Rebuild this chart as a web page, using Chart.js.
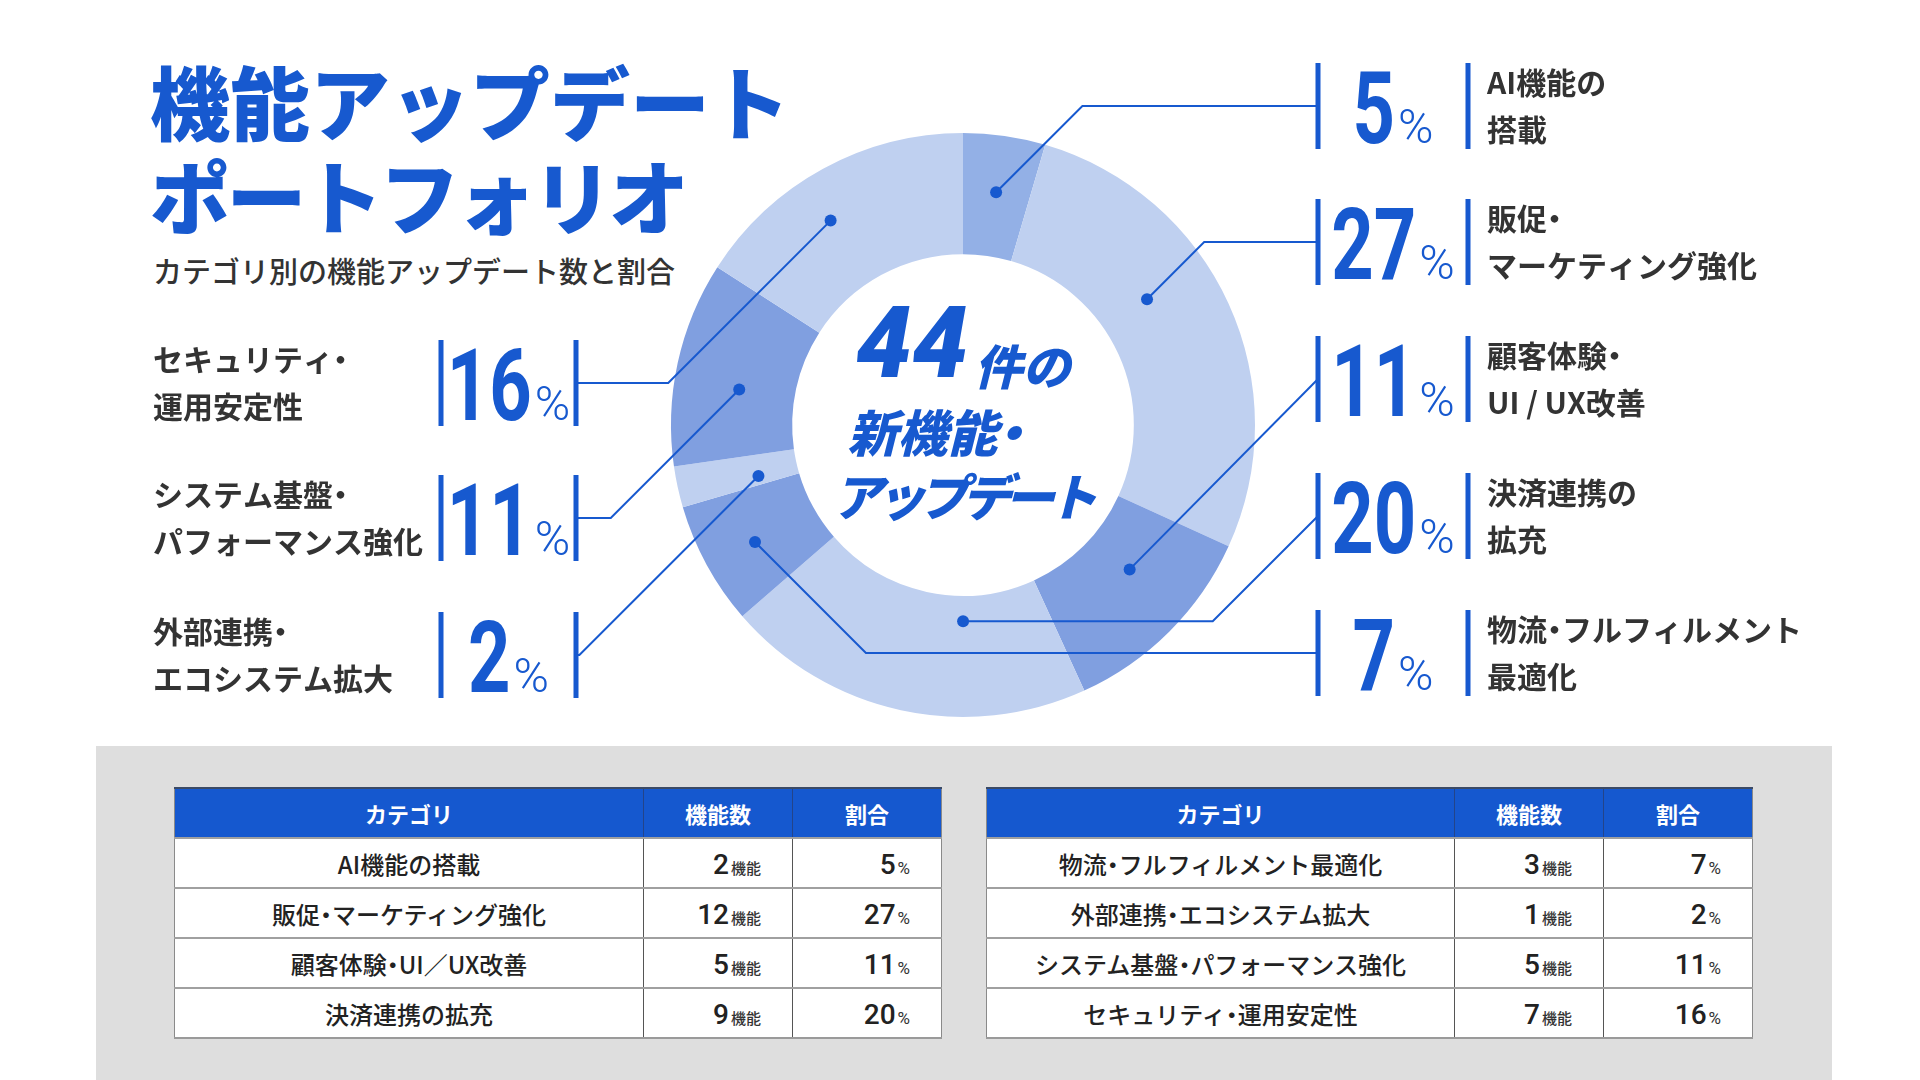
<!DOCTYPE html>
<html lang="ja">
<head>
<meta charset="utf-8">
<title>機能アップデートポートフォリオ</title>
<script src="https://cdn.jsdelivr.net/npm/chart.js@4.4.1/dist/chart.umd.min.js"></script>
<style>
  html,body{margin:0;padding:0;background:#ffffff;}
  body{width:1920px;height:1080px;position:relative;overflow:hidden;font-family:"Noto Sans CJK JP","Noto Sans",sans-serif;}
  #title{position:absolute;left:150px;top:52px;margin:0;font-size:80px;font-weight:900;line-height:94px;color:#1759cf;white-space:nowrap;}
  #title .l2{letter-spacing:-3.5px;}
  #subtitle{position:absolute;left:153px;top:250px;margin:0;font-size:29px;font-weight:500;line-height:40px;color:#333;white-space:nowrap;}
  #chartBox{position:absolute;left:0;top:0;width:1920px;height:746px;}
  #panel{position:absolute;left:96px;top:746px;width:1736px;height:334px;background:#dedede;}
  table{position:absolute;top:41px;border-collapse:collapse;table-layout:fixed;background:#fff;border:1px solid #8a8a8a;border-bottom:2px solid #9a9a9a;}
  th{background:#1558cf;color:#fff;font-weight:700;font-size:22px;height:48px;padding:0;text-align:center;border-right:1px solid #23448a;border-top:2px solid #3b4a66;}
  th:last-child{border-right:none;}
  td{height:48px;padding:0;border-top:2px solid #a0a0a0;border-right:1px solid #555;font-size:24px;font-weight:500;color:#222;}
  td:last-child{border-right:none;}
  td.cat{text-align:center;}
  td.num{text-align:right;padding-right:31px;}
  td.pct{text-align:right;padding-right:31px;}
  .dot{margin:0 -0.25em;}
  .n{font-family:Roboto,"Noto Sans",sans-serif;font-weight:500;font-size:28px;color:#222;}
  .u{font-size:15px;font-weight:500;color:#333;margin-left:2px;}
  .p{font-family:Roboto,sans-serif;font-size:17px;font-weight:400;color:#333;margin-left:2px;}
</style>
</head>
<body>
<h1 id="title">機能アップデート<br><span class="l2">ポートフォリオ</span></h1>
<p id="subtitle">カテゴリ別の機能アップデート数と割合</p>
<div id="chartBox"><canvas id="c" width="1920" height="746"></canvas></div>
<div id="panel">
  <table id="t1" style="left:78px;width:767px;">
    <colgroup><col style="width:469px"><col style="width:149px"><col style="width:149px"></colgroup>
  </table>
  <table id="t2" style="left:890px;width:766px;">
    <colgroup><col style="width:468px"><col style="width:149px"><col style="width:149px"></colgroup>
  </table>
</div>
<script>
// ---- data ----
const categories = ['AI機能の搭載','販促・マーケティング強化','顧客体験・UI／UX改善','決済連携の拡充','物流・フルフィルメント最適化','外部連携・エコシステム拡大','システム基盤・パフォーマンス強化','セキュリティ・運用安定性'];
const featureCounts = [2, 12, 5, 9, 3, 1, 5, 7];
const sharePercents = [5, 27, 11, 20, 7, 2, 11, 16];
const calloutLines = [
  ['AI機能の','搭載'],
  ['販促・','マーケティング強化'],
  ['顧客体験・','UI / UX改善'],
  ['決済連携の','拡充'],
  ['物流・フルフィルメント','最適化'],
  ['外部連携・','エコシステム拡大'],
  ['システム基盤・','パフォーマンス強化'],
  ['セキュリティ・','運用安定性']
];
const totalLabel = '44';
const centerLines = ['件の', '新機能・', 'アップデート'];
const tableHeaders = ['カテゴリ','機能数','割合'];
const countUnit = '機能';

// ---- styles / layout ----
const BLUE = '#1759cf';
const segmentColors = ['#93b0e6','#bfd0f0','#809fe0','#bfd0f0','#809fe0','#bfd0f0','#809fe0','#bfd0f0'];
const BAR_H = 86;
const rightSide = {inner:1318, outer:1468, text:1487, tops:[63,199,336,473,610]};
const leftSide  = {inner:576,  outer:441,  text:153,  tops:[340,475,612]};
// at: position of the marker along its arc (0..1), rad: position across the ring (0 inner .. 1 outer)
const calloutLayout = [
  {side:'right', slot:0, route:'diag', at:0.495, rad:0.53},
  {side:'right', slot:1, route:'diag', at:0.40,  rad:0.43},
  {side:'right', slot:2, route:'diag', at:0.40,  rad:0.41},
  {side:'right', slot:3, route:'flat', at:0.333, rad:0.21},
  {side:'right', slot:4, route:'diag', at:0.47,  rad:0.56},
  {side:'left',  slot:2, route:'diag', at:0.29,  rad:0.33},
  {side:'left',  slot:1, route:'diag', at:0.42,  rad:0.46},
  {side:'left',  slot:0, route:'diag', at:0.425, rad:0.60}
];
const SX = 0.74;

// draw Japanese text with a narrow middle dot (proportional "・")
function drawJP(ctx, text, x, y, align, spacing){
  spacing = spacing || 0;
  const items = [...text].map(ch => {
    const w = ctx.measureText(ch).width;
    if (ch === '・') return {ch, adv: w * 0.5, off: -w * 0.25};
    return {ch, adv: w + spacing, off: 0};
  });
  const total = items.reduce((s, it) => s + it.adv, 0) - spacing;
  let cx = align === 'center' ? x - total / 2 : x;
  const prev = ctx.textAlign;
  ctx.textAlign = 'left';
  items.forEach(it => { ctx.fillText(it.ch, cx + it.off, y); cx += it.adv; });
  ctx.textAlign = prev;
  return total;
}

function drawPercent(ctx, value, cx, baseY){
  const s = String(value);
  ctx.font = 'bold 100px Roboto';
  const dw = ctx.measureText(s).width * SX;
  ctx.font = '300 48px Roboto';
  const pw = ctx.measureText('%').width;
  const gap = 3;
  const x = cx - (dw + gap + pw) / 2;
  ctx.fillStyle = BLUE;
  ctx.textAlign = 'left';
  ctx.textBaseline = 'alphabetic';
  ctx.save();
  ctx.translate(x, baseY);
  ctx.scale(SX, 1);
  ctx.font = 'bold 100px Roboto';
  ctx.fillText(s, 0, 0);
  ctx.restore();
  ctx.font = '300 48px Roboto';
  ctx.fillText('%', x + dw + gap, baseY);
}

const calloutPlugin = {
  id: 'callouts',
  afterDatasetsDraw(chart){
    const ctx = chart.ctx;
    const meta = chart.getDatasetMeta(0);
    ctx.save();
    meta.data.forEach((arc, i) => {
      const L = calloutLayout[i];
      const S = L.side === 'right' ? rightSide : leftSide;
      const dir = L.side === 'right' ? 1 : -1;
      const top = S.tops[L.slot];
      const cy = top + BAR_H / 2;
      const ang = arc.startAngle + (arc.endAngle - arc.startAngle) * L.at;
      const r = arc.innerRadius + (arc.outerRadius - arc.innerRadius) * L.rad;
      const px = arc.x + Math.cos(ang) * r;
      const py = arc.y + Math.sin(ang) * r;
      const d = Math.abs(cy - py);
      // leader line
      ctx.strokeStyle = BLUE;
      ctx.lineWidth = 2;
      ctx.beginPath();
      ctx.moveTo(px, py);
      if (L.route === 'diag') {
        let ex = px + dir * d;
        if ((ex - S.inner) * dir > 0) ex = S.inner;
        ctx.lineTo(ex, cy);
        ctx.lineTo(S.inner, cy);
      } else {
        ctx.lineTo(S.inner - dir * d, py);
        ctx.lineTo(S.inner, cy);
      }
      ctx.stroke();
      // marker
      ctx.fillStyle = BLUE;
      ctx.beginPath();
      ctx.arc(px, py, 6, 0, Math.PI * 2);
      ctx.fill();
      // bars
      ctx.fillRect(S.inner - 2.5, top, 5, BAR_H);
      ctx.fillRect(S.outer - 2.5, top, 5, BAR_H);
      // percent
      drawPercent(ctx, sharePercents[i], (S.inner + S.outer) / 2, cy + 37);
      // label
      ctx.fillStyle = '#333';
      ctx.font = 'bold 30px "Noto Sans CJK JP"';
      ctx.textBaseline = 'middle';
      drawJP(ctx, calloutLines[i][0], S.text, cy - 23, 'left');
      drawJP(ctx, calloutLines[i][1], S.text, cy + 24, 'left');
    });
    // center text
    const a0 = meta.data[0];
    const cx = a0.x;
    ctx.fillStyle = BLUE;
    ctx.textBaseline = 'alphabetic';
    ctx.textAlign = 'left';
    ctx.font = 'italic 900 100px Roboto';
    const w44 = ctx.measureText(totalLabel).width;
    ctx.font = 'italic 900 48px "Noto Sans CJK JP"';
    const wKen = ctx.measureText(centerLines[0]).width;
    const sx = cx - (w44 + 6 + wKen) / 2;
    ctx.font = 'italic 900 100px Roboto';
    ctx.fillText(totalLabel, sx, 377);
    ctx.font = 'italic 900 48px "Noto Sans CJK JP"';
    ctx.fillText(centerLines[0], sx + w44 + 6, 385);
    ctx.font = 'italic 900 50px "Noto Sans CJK JP"';
    drawJP(ctx, centerLines[1], cx - 28, 452, 'center');
    drawJP(ctx, centerLines[2], cx + 2, 516, 'center', -7);
    ctx.restore();
  }
};

new Chart(document.getElementById('c'), {
  type: 'doughnut',
  data: {
    labels: categories,
    datasets: [{
      data: featureCounts,
      backgroundColor: segmentColors,
      borderWidth: 0,
      hoverOffset: 0
    }]
  },
  options: {
    responsive: false,
    animation: false,
    cutout: '58.5%',
    layout: {padding: {left: 671, right: 665, top: 133, bottom: 29}},
    plugins: {legend: {display: false}, tooltip: {enabled: false}},
    events: []
  },
  plugins: [calloutPlugin]
});

// ---- tables ----
function fmtCat(s){ return s.split('・').join('<span class="dot">・</span>'); }
function buildTable(el, start, end){
  let html = '<thead><tr>' + tableHeaders.map(h => '<th>' + h + '</th>').join('') + '</tr></thead><tbody>';
  for (let i = start; i < end; i++) {
    html += '<tr><td class="cat">' + fmtCat(categories[i]) + '</td>' +
      '<td class="num"><span class="n">' + featureCounts[i] + '</span><span class="u">' + countUnit + '</span></td>' +
      '<td class="pct"><span class="n">' + sharePercents[i] + '</span><span class="p">%</span></td></tr>';
  }
  html += '</tbody>';
  el.insertAdjacentHTML('beforeend', html);
}
buildTable(document.getElementById('t1'), 0, 4);
buildTable(document.getElementById('t2'), 4, 8);
</script>
</body>
</html>
